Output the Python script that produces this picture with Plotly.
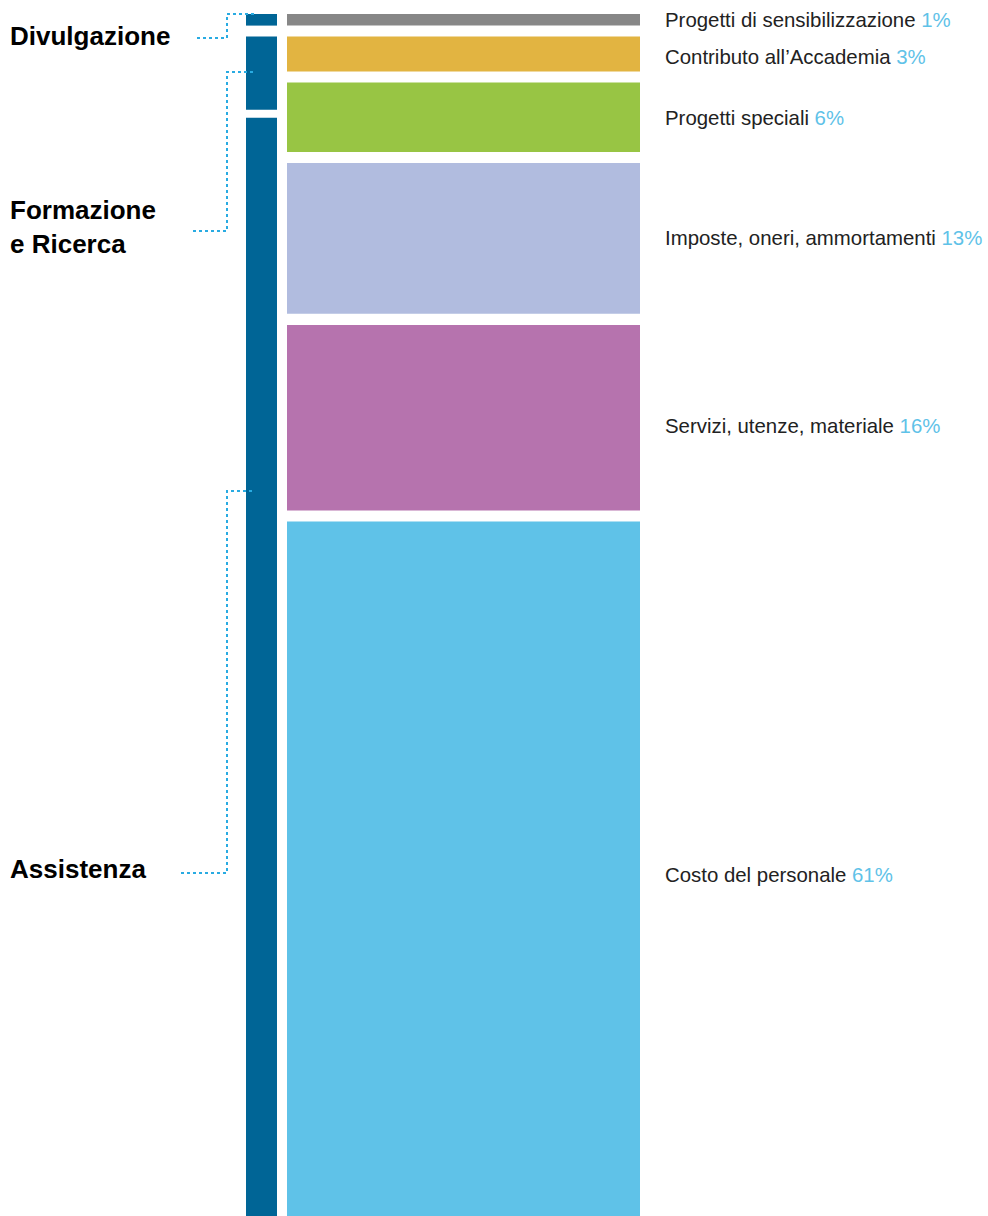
import plotly.graph_objects as go

# ---- data ----
categories = ["Progetti di sensibilizzazione", "Contributo all’Accademia", "Progetti speciali",
              "Imposte, oneri, ammortamenti", "Servizi, utenze, materiale", "Costo del personale"]
shares = [1, 3, 6, 13, 16, 61]
pct_labels = ["1%", "3%", "6%", "13%", "16%", "61%"]
cat_colors = ["#878787", "#e2b441", "#98c544", "#b1bcdf", "#b673ae", "#5fc2e8"]

groups = ["Divulgazione", "Formazione<br>e Ricerca", "Assistenza"]
group_values = [1, 6.3, 95.8]
group_gaps = [0.95, 0.7]
group_color = "#006596"

# ---- geometry helpers ----
GAP = 0.95
PX = 11.6          # pixels per percentage unit
TOP = 14           # pixel offset of first bar

def py(p):
    return (p - TOP) / PX

bases = []
acc = 0
for v in shares:
    bases.append(acc)
    acc += v + GAP

gbases = []
acc = 0
for i, v in enumerate(group_values):
    gbases.append(acc)
    acc += v + (group_gaps[i] if i < len(group_gaps) else 0)

fig = go.Figure()
fig.add_trace(go.Bar(x=[463.5] * len(shares), y=shares, base=bases, width=[353] * len(shares),
                     marker=dict(color=cat_colors, line=dict(width=0)), hoverinfo="skip",
                     showlegend=False))
fig.add_trace(go.Bar(x=[261.5] * len(group_values), y=group_values, base=gbases,
                     width=[31] * len(group_values),
                     marker=dict(color=group_color, line=dict(width=0)), hoverinfo="skip",
                     showlegend=False))

label_shift = [0, -3, -1, 0, -8, 0]
for c, p, b, v, s in zip(categories, pct_labels, bases, shares, label_shift):
    fig.add_annotation(x=663, y=b + v / 2, xref="x", yref="y", xanchor="left", yanchor="middle",
                       yshift=s, showarrow=False,
                       text=f"{c} <span style='color:#5fc2e8'>{p}</span>",
                       font=dict(family="Liberation Sans, Arial, sans-serif", size=20.4, color="#222222"))

# group labels and dotted connectors (pixel positions)
group_label_y = [36, 227, 869]
conn_top = [14, 72, 491]
conn_bot = [38, 231, 873]
conn_left = [197, 193, 181]
for g, ly, ct, cb, cl in zip(groups, group_label_y, conn_top, conn_bot, conn_left):
    fig.add_annotation(x=8, y=py(ly), xref="x", yref="y", xanchor="left", yanchor="middle",
                       showarrow=False, text=f"<b>{g}</b>", align="left",
                       font=dict(family="Liberation Sans, Arial, sans-serif", size=26, color="#000000"))
    fig.add_shape(type="path", xref="x", yref="y",
                  path=f"M {cl},{py(cb)} L 227,{py(cb)} L 227,{py(ct)} L 254,{py(ct)}",
                  line=dict(color="#29abe2", width=2, dash="dot"))

fig.update_layout(width=988, height=1216, margin=dict(l=0, r=0, t=0, b=0),
                  paper_bgcolor="white", plot_bgcolor="white", barmode="overlay",
                  hovermode=False,
                  xaxis=dict(range=[0, 988], visible=False, fixedrange=True),
                  yaxis=dict(range=[py(1216), py(0)], visible=False, fixedrange=True))

fig.write_html("out.html", config={"displayModeBar": False, "staticPlot": True},
               post_script="document.body.style.margin='0';document.body.style.overflow='hidden';")
